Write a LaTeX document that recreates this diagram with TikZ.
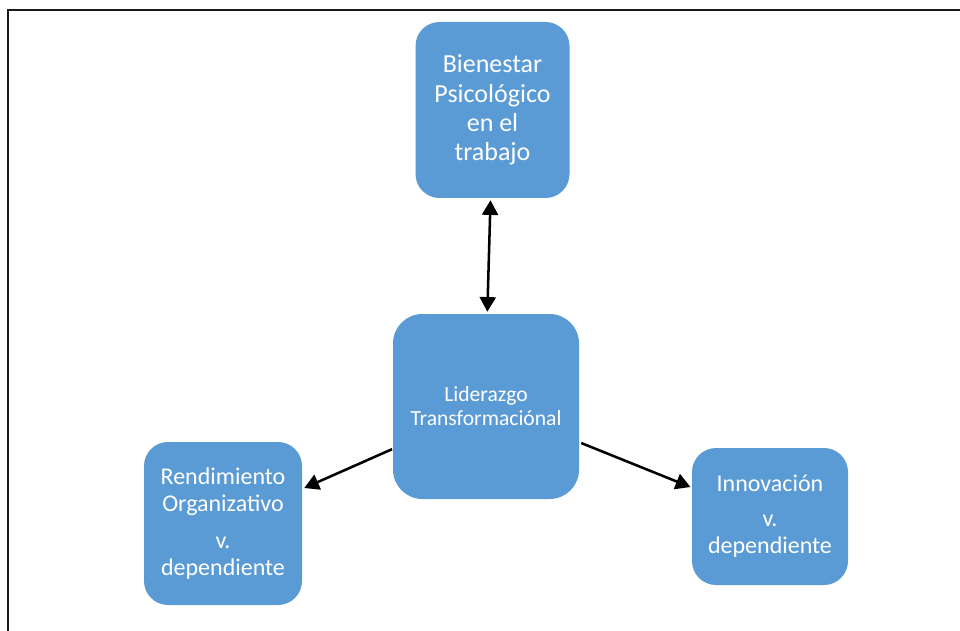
\documentclass[tikz,border=0pt]{standalone}
\usepackage{fontspec}
\setmainfont{Carlito}
\usetikzlibrary{arrows.meta}
\definecolor{boxblue}{HTML}{5B9BD5}

\begin{document}
\begin{tikzpicture}[x=0.75pt,y=-0.75pt,
	box/.style={rectangle,rounded corners=18pt,fill=boxblue,text=white,align=center,inner sep=0pt},
	>={Triangle[length=11pt,width=12pt]}]
	
		\useasboundingbox (0,0) rectangle (960,631);
		\draw[line width=1.1pt,black!90] (8,631) -- (8,10) -- (960,10);
		
		\node[box,minimum width=115.5pt,minimum height=132pt,font=\fontsize{19.5}{22}\selectfont] (bien) at (492.5,110)
			{Bienestar\\Psicológico\\en el\\trabajo};
		\node[box,rounded corners=22pt,minimum width=139.5pt,minimum height=138.75pt,font=\fontsize{16.2}{18}\selectfont] (lider) at (486,406.5)
			{Liderazgo\\Transformaciónal};
		\node[box,minimum width=118.5pt,minimum height=122.25pt,font=\fontsize{18}{20.25}\selectfont] (rend) at (223,523.5)
			{Rendimiento\\Organizativo\\[7.5pt]v.\\dependiente};
		\node[box,minimum width=117pt,minimum height=102.75pt,font=\fontsize{18}{20.25}\selectfont] (innov) at (770,516.5)
			{Innovación\\[6pt]v.\\dependiente};
		
		\path[<->,line width=1.9pt] ([xshift=-1.5pt,yshift=-1.5pt]bien.south) edge
			([xshift=1pt,yshift=1.5pt]lider.north);
		\path[->,line width=1.9pt] ([xshift=-0.5pt,yshift=-32pt]lider.west) edge
			([xshift=1.5pt,yshift=26.6pt]rend.east);
		\path[->,line width=1.9pt] ([xshift=1.5pt,yshift=-27.4pt]lider.east) edge
			([xshift=-1pt,yshift=22.1pt]innov.west);
		
	\end{tikzpicture}
\end{document}
